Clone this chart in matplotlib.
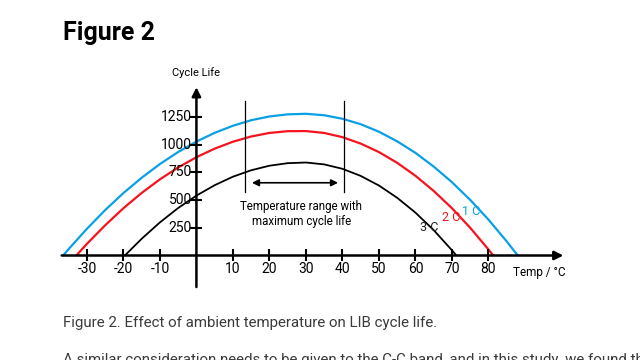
import matplotlib.pyplot as plt

# Data (temperature in degC, cycle life)
temps_1c = [-36.5, -35, -30, -25, -20, -15, -10, -5, 0, 5, 10, 15, 20, 25, 30,
            35, 40, 45, 50, 55, 60, 65, 70, 75, 80, 85, 88]
life_1c = [0, 58, 241, 410, 564, 702, 826, 935, 1029, 1108, 1172, 1222, 1256, 1275, 1280,
           1267, 1235, 1186, 1118, 1031, 927, 803, 662, 502, 324, 127, 0]

temps_2c = [-32.9, -30, -25, -20, -15, -10, -5, 0, 5, 10, 15, 20, 25, 30,
            35, 40, 45, 50, 55, 60, 65, 70, 75, 80, 81.3]
life_2c = [0, 105, 273, 427, 565, 688, 795, 888, 965, 1028, 1075, 1107, 1123, 1124,
           1107, 1069, 1011, 934, 837, 720, 583, 427, 250, 54, 0]

temps_3c = [-19.6, -15, -10, -5, 0, 5, 10, 15, 20, 25, 30,
            35, 40, 45, 50, 55, 60, 65, 70, 71.2]
life_3c = [0, 151, 299, 429, 541, 635, 712, 770, 811, 834, 840,
           823, 783, 719, 632, 521, 387, 229, 47, 0]

x_ticks = [-30, -20, -10, 10, 20, 30, 40, 50, 60, 70, 80]
y_ticks = [250, 500, 750, 1000, 1250]
range_lo, range_hi = 13.4, 40.4

chart_font = ['Roboto', 'DejaVu Sans']
blue = '#0aa0e6'
red = '#f5141e'

fig = plt.figure(figsize=(6.4, 3.6), dpi=100)
ax = fig.add_axes([0, 0, 1, 1])
ax.set_xlim(-53.8, 121.5)
ax.set_ylim(-944, 2308)
ax.axis('off')

# curves
ax.plot(temps_1c, life_1c, color=blue, lw=1.6, solid_capstyle='butt')
ax.plot(temps_2c, life_2c, color=red, lw=1.6, solid_capstyle='butt')
ax.plot(temps_3c, life_3c, color='black', lw=1.3, solid_capstyle='butt')

# axes with arrows
ax.annotate('', xy=(100.5, 0), xytext=(-36.9, 0),
            arrowprops=dict(arrowstyle='-|>', lw=1.8, color='black', mutation_scale=13,
                            shrinkA=0, shrinkB=0))
ax.annotate('', xy=(0, 1520), xytext=(0, -285),
            arrowprops=dict(arrowstyle='-|>', lw=1.8, color='black', mutation_scale=13,
                            shrinkA=0, shrinkB=0))

# ticks
ax.plot(x_ticks, [0] * len(x_ticks), ls='none', marker='|', ms=8, mew=1.5, color='black')
ax.plot([0] * len(y_ticks), y_ticks, ls='none', marker='_', ms=8, mew=1.5, color='black')
for t in x_ticks:
    ax.text(t, -125, str(t), ha='center', va='center', fontsize=10, family=chart_font)
for v in y_ticks:
    ax.text(-1.2, v, str(v), ha='right', va='center', fontsize=10, family=chart_font)

ax.text(0, 1650, 'Cycle Life', ha='center', va='center', fontsize=8, family=chart_font)
ax.text(86.8, -150, 'Temp / \u00b0C', ha='left', va='center', fontsize=8.5, family=chart_font)

# optimum range markers
for t in (range_lo, range_hi):
    ax.plot([t, t], [1392, 570], color='black', lw=0.9)
ax.annotate('', xy=(15.2, 657), xytext=(38.8, 657),
            arrowprops=dict(arrowstyle='<|-|>', lw=1.2, color='black', mutation_scale=10,
                            shrinkA=0, shrinkB=0))
ax.text(28.7, 375, 'Temperature range with\nmaximum cycle life', ha='center', va='center',
        fontsize=8.3, family=chart_font, linespacing=1.15)

# curve labels
ax.text(75.2, 395, '1 C', color=blue, ha='center', va='center', fontsize=9, family=chart_font)
ax.text(69.9, 340, '2 C', color=red, ha='center', va='center', fontsize=9, family=chart_font)
ax.text(63.7, 250, '3 C', color='#222222', ha='center', va='center', fontsize=9, family=chart_font)

# page text around the figure
fig.text(63 / 640, 1 - 33 / 360, 'Figure 2', ha='left', va='center', fontsize=18,
         fontweight='bold', family=chart_font)
fig.text(63 / 640, 1 - 323 / 360, 'Figure 2. Effect of ambient temperature on LIB cycle life.',
         ha='left', va='center', fontsize=10.8, color='#3a3a3a', family=chart_font)
fig.text(63 / 640, 1 - 353 / 360,
         'A similar consideration needs to be given to the C-C band, and in this study, we found that',
         ha='left', va='top', fontsize=10.8, color='#3a3a3a', family=chart_font)

fig.savefig('out.png', dpi=100, facecolor='white')
